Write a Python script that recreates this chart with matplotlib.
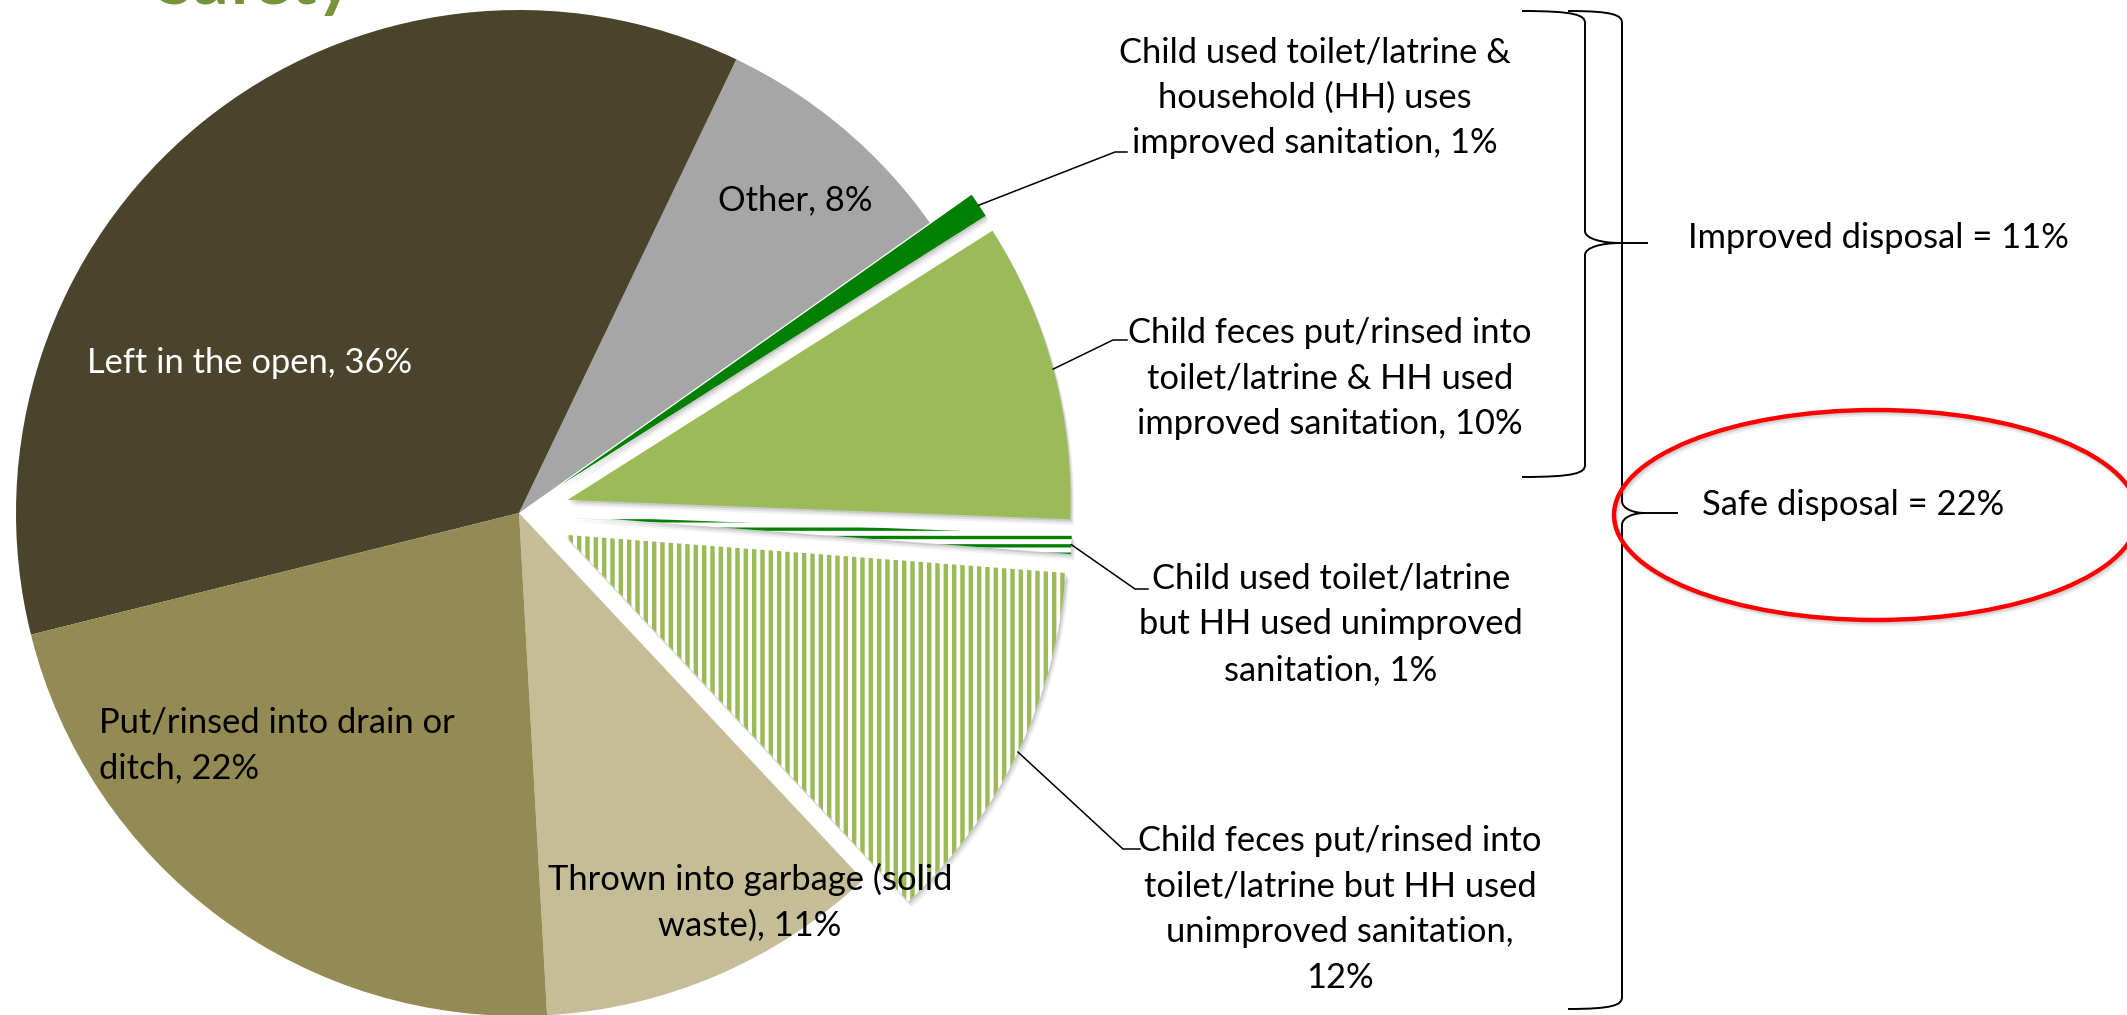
import numpy as np
import matplotlib
matplotlib.use('Agg')
import matplotlib.pyplot as plt
from matplotlib.path import Path
from matplotlib.patches import PathPatch, Ellipse, Wedge

W, H = 2127, 1015

# slices, counterclockwise starting from "Thrown into garbage"
slice_values = [11.1, 11.8, 0.6, 9.6, 0.8, 8.1, 36.0, 22.0]
slice_labels = [
    'Thrown into garbage (solid\nwaste), 11%',
    'Child feces put/rinsed into\ntoilet/latrine but HH used\nunimproved sanitation,\n12%',
    'Child used toilet/latrine\nbut HH used unimproved\nsanitation, 1%',
    'Child feces put/rinsed into\ntoilet/latrine & HH used\nimproved sanitation, 10%',
    'Child used toilet/latrine &\nhousehold (HH) uses\nimproved sanitation, 1%',
    'Other, 8%',
    'Left in the open, 36%',
    'Put/rinsed into drain or\nditch, 22%',
]
slice_colors = ['#C4BD97', '#9BBB59', '#008000', '#9BBB59', '#008000', '#A6A6A6', '#4A442D', '#948A54']
slice_hatch = [None, '||', '--', None, None, None, None, None]
safe_slices = [1, 2, 3, 4]
group_labels = ['Improved disposal = 11%', 'Safe disposal = 22%']
title_text = 'Safety'

FS = 24.8
LS = 45.5
R = 503

plt.rcParams['font.family'] = ['Lato', 'DejaVu Sans']
plt.rcParams['hatch.linewidth'] = 3.2


def put_text(ax, x, y, text, ha='center', color='black', size=FS, **kw):
    # y is measured from the top of the picture, each line placed on its baseline
    for k, line in enumerate(text.split('\n')):
        ax.text(x, H - (y + k * LS), line, ha=ha, va='baseline', color=color,
                fontsize=size, **kw)


def brace(ax, x0, xv, xc, xt, yt, ym, yb, c=12):
    pts = [(x0, yt), (xv - 0.15 * (xv - x0), yt), (xv, yt + 0.35 * c), (xv, yt + c),
           (xv, ym - c),
           (xv, ym - 0.35 * c), (xv + 0.5 * (xc - xv), ym), (xc, ym),
           (xt, ym),
           (xc, ym),
           (xv + 0.5 * (xc - xv), ym), (xv, ym + 0.35 * c), (xv, ym + c),
           (xv, yb - c),
           (xv, yb - 0.35 * c), (xv - 0.15 * (xv - x0), yb), (x0, yb)]
    codes = [Path.MOVETO, Path.CURVE4, Path.CURVE4, Path.CURVE4,
             Path.LINETO,
             Path.CURVE4, Path.CURVE4, Path.CURVE4,
             Path.LINETO,
             Path.MOVETO,
             Path.CURVE4, Path.CURVE4, Path.CURVE4,
             Path.LINETO,
             Path.CURVE4, Path.CURVE4, Path.CURVE4]
    pts = [(px, H - py) for px, py in pts]
    ax.add_patch(PathPatch(Path(pts, codes), fill=False, edgecolor='black', lw=1.4))


fig = plt.figure(figsize=(W / 100, H / 100), dpi=100)
ax = fig.add_axes([0, 0, 1, 1])

# pie() takes explode in data units, so 0.1 of the radius
explode = [0.1 * R if i in safe_slices else 0 for i in range(len(slice_values))]
wedges, _ = ax.pie(slice_values, colors=slice_colors, explode=explode,
                   startangle=-86.8, counterclock=True, radius=R,
                   center=(519, H - 513), wedgeprops=dict(linewidth=0))

for i, w in enumerate(wedges):
    if slice_hatch[i]:
        w.set_facecolor('white')
        w.set_edgecolor(slice_colors[i])
        w.set_hatch(slice_hatch[i])
        w.set_linewidth(0)
    if i in safe_slices:
        # soft shadow behind the pulled-out slices
        for k, a in [(2, 0.10), (4, 0.07), (6, 0.05)]:
            ax.add_patch(Wedge((w.center[0] + k * 0.6, w.center[1] - k), w.r,
                               w.theta1, w.theta2, color='black', alpha=a,
                               lw=0, zorder=0.5))
if hasattr(wedges[2], 'set_hatch_linewidth'):
    wedges[2].set_hatch_linewidth(2.4)

# labels inside / next to the pie
put_text(ax, 750, 890, slice_labels[0])
put_text(ax, 250, 373, slice_labels[6], color='white')
put_text(ax, 795, 210, slice_labels[5])
put_text(ax, 99, 733, slice_labels[7], ha='left')

# labels on the right with leader lines
right_labels = {4: (1315, 62, (1115, 152), (1127, 152)),
                3: (1330, 343, (1113, 340), (1127, 340)),
                2: (1331, 589, (1135, 589), (1148, 589)),
                1: (1340, 851, (1123, 849), (1140, 849))}
for i, (lx, ly, elbow, end) in right_labels.items():
    put_text(ax, lx, ly, slice_labels[i])
    w = wedges[i]
    mid = np.deg2rad((w.theta1 + w.theta2) / 2)
    sx = w.center[0] + w.r * np.cos(mid)
    sy = w.center[1] + w.r * np.sin(mid)
    ax.plot([sx, elbow[0], end[0]], [sy, H - elbow[1], H - end[1]],
            color='black', lw=1.1, zorder=3)

# group braces
brace(ax, 1522, 1585, 1620, 1648, 11, 243, 477)
brace(ax, 1568, 1622, 1645, 1678, 11, 513, 1009)
put_text(ax, 1688, 248, group_labels[0], ha='left')
put_text(ax, 1702, 515, group_labels[1], ha='left')

for k, a in [(2, 0.10), (4, 0.07)]:
    ax.add_patch(Ellipse((1876 + k * 0.6, H - 515 - k), 524, 210, fill=False,
                         edgecolor='black', alpha=a, lw=3.2, zorder=2))
ax.add_patch(Ellipse((1876, H - 515), 524, 210, fill=False, edgecolor='#FF0000',
                     lw=3.2, zorder=3))

# the slide title, cut off by the top edge as in the slide
ax.text(353, H - 4, title_text, ha='right', va='baseline', color='#77933C',
        fontsize=50, fontweight='bold')

ax.set_xlim(0, W)
ax.set_ylim(0, H)
ax.set_aspect('auto')
ax.axis('off')

fig.savefig('out.png', dpi=100)
plt.close()
